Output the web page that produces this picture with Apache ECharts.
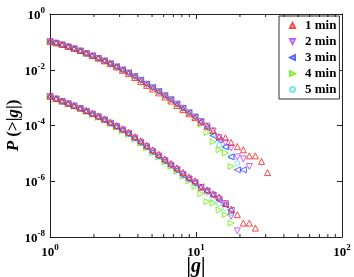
<!DOCTYPE html>
<html><head><meta charset="utf-8">
<script src="https://cdn.jsdelivr.net/npm/echarts@6/dist/echarts.min.js"></script>
<style>html,body{margin:0;padding:0;background:#fff}#c{width:354px;height:277px}</style>
</head><body><div id="c"></div>
<script>
// |g| values (log-spaced bins)
const gValues = [1, 1.1, 1.21, 1.33, 1.46, 1.61, 1.77, 1.95, 2.14, 2.36, 2.59, 2.85, 3.14, 3.45, 3.80, 4.18, 4.59, 5.05, 5.56, 6.12, 6.73, 7.40, 8.14, 8.95, 9.85, 10.8, 11.9, 13.1, 14.4, 15.9, 17.4, 19.2, 21.1, 23.2, 25.5, 28.1, 30.9];
const seriesNames = ['1 min', '2 min', '3 min', '4 min', '5 min'];
// log10 P(>|g|), upper branch
const upper1 = [-0.98, -1.03, -1.09, -1.16, -1.23, -1.31, -1.40, -1.49, -1.58, -1.68, -1.78, -1.90, -2.02, -2.14, -2.28, -2.42, -2.56, -2.69, -2.83, -2.98, -3.12, -3.28, -3.43, -3.58, -3.72, -3.88, -4.02, -4.18, -4.40, -4.44, -4.61, -4.76, -4.87, -5.09, -5.09, -5.29, -5.69];
const upper2 = [-0.99, -1.05, -1.11, -1.18, -1.25, -1.33, -1.42, -1.51, -1.60, -1.69, -1.79, -1.90, -2.01, -2.12, -2.25, -2.39, -2.53, -2.65, -2.79, -2.94, -3.08, -3.24, -3.39, -3.55, -3.70, -3.86, -4.02, -4.20, -4.44, -4.62, -4.80, -5.13, -5.20, -5.47];
const upper3 = [-0.99, -1.05, -1.11, -1.18, -1.25, -1.33, -1.42, -1.50, -1.59, -1.68, -1.78, -1.89, -2.00, -2.11, -2.24, -2.37, -2.51, -2.64, -2.78, -2.93, -3.07, -3.23, -3.38, -3.54, -3.69, -3.87, -4.08, -4.36, -4.52, -4.77, -5.13, -5.59, -5.59];
const upper4 = [-0.99, -1.04, -1.10, -1.17, -1.24, -1.32, -1.41, -1.49, -1.58, -1.67, -1.77, -1.88, -1.99, -2.10, -2.23, -2.36, -2.50, -2.63, -2.77, -2.92, -3.07, -3.23, -3.39, -3.56, -3.72, -3.95, -4.25, -4.58, -4.87, -4.98, -5.47];
const upper5 = [-0.99, -1.05, -1.11, -1.18, -1.25, -1.33, -1.42, -1.50, -1.59, -1.68, -1.78, -1.89, -2.00, -2.09, -2.22, -2.35, -2.49, -2.62, -2.76, -2.90, -3.05, -3.20, -3.35, -3.51, -3.66, -3.85, -4.02, -4.30, -4.70, -4.76, -5.11, -5.35];
// log10 P(>|g|), lower branch
const lower1 = [-2.95, -3.03, -3.12, -3.20, -3.28, -3.37, -3.46, -3.56, -3.66, -3.76, -3.88, -4.00, -4.12, -4.24, -4.40, -4.55, -4.71, -4.87, -5.03, -5.20, -5.36, -5.52, -5.68, -5.85, -5.98, -6.21, -6.31, -6.45, -6.57, -6.80, -7.00, -7.20, -7.50, -7.50, -7.68];
const lower2 = [-2.96, -3.05, -3.14, -3.22, -3.30, -3.39, -3.49, -3.59, -3.69, -3.80, -3.92, -4.04, -4.16, -4.29, -4.45, -4.60, -4.76, -4.93, -5.09, -5.26, -5.42, -5.58, -5.76, -5.92, -6.06, -6.22, -6.36, -6.50, -6.64, -6.80, -7.26, -7.78];
const lower3 = [-2.96, -3.05, -3.14, -3.23, -3.31, -3.40, -3.50, -3.60, -3.70, -3.81, -3.93, -4.05, -4.17, -4.30, -4.46, -4.62, -4.78, -4.95, -5.11, -5.28, -5.44, -5.60, -5.78, -5.92, -6.05, -6.20, -6.35, -6.50, -6.68, -6.85, -7.03];
const lower4 = [-2.96, -3.05, -3.14, -3.23, -3.31, -3.40, -3.50, -3.61, -3.71, -3.82, -3.94, -4.06, -4.19, -4.32, -4.48, -4.64, -4.80, -4.97, -5.13, -5.30, -5.47, -5.64, -5.82, -5.99, -6.19, -6.45, -6.73, -6.79, -7.03, -7.20, -7.50];
const lower5 = [-2.96, -3.05, -3.14, -3.23, -3.31, -3.40, -3.50, -3.60, -3.70, -3.81, -3.93, -4.05, -4.18, -4.31, -4.47, -4.63, -4.79, -4.96, -5.12, -5.29, -5.45, -5.62, -5.80, -5.95, -6.08, -6.25, -6.42, -6.60, -6.80, -6.96, -7.15];
// minor tick positions on the x axis
const xMinorTicks = [2, 3, 4, 5, 6, 7, 8, 9, 20, 30, 40, 50, 60, 70, 80, 90];

const uppers = [upper1, upper2, upper3, upper4, upper5];
const lowers = [lower1, lower2, lower3, lower4, lower5];
const colors = ['#ff1a1a', '#b040ff', '#2a40ff', '#66ee00', '#55e0e0'];
const symbols = ['triangle', 'path://M0,0 L10,0 L5,10 Z', 'path://M10,0 L10,10 L0,5 Z', 'path://M0,0 L0,10 L10,5 Z', 'circle'];
const FONT = 'Liberation Serif';

function toPairs(arr) { return arr.map((v, i) => [gValues[i], Math.pow(10, v)]); }

const scatterSeries = seriesNames.map((name, i) => ({
  name, type: 'scatter', symbol: symbols[i], symbolSize: i === 4 ? 5 : 6,
  itemStyle: { color: 'rgba(255,255,255,0)', borderColor: colors[i], borderWidth: 1 },
  data: toPairs(uppers[i]).concat(toPairs(lowers[i])),
  z: 10 - i
}));

const labelRich = {
  b: { fontFamily: FONT, fontWeight: 'bold', fontSize: 13, color: '#000', verticalAlign: 'bottom', lineHeight: 16 },
  s: { fontFamily: FONT, fontWeight: 'bold', fontSize: 9, color: '#000', verticalAlign: 'top', lineHeight: 16 }
};
function powLabel(v) { return '{b|10}{s|' + Math.round(Math.log10(v)) + '}'; }

const tickSeries = {
  type: 'custom', silent: true, z: 20,
  data: xMinorTicks.map(v => [v, 1e-8]),
  encode: { x: 0, y: 1 },
  renderItem: function (params, api) {
    const v = api.value(0);
    const pb = api.coord([v, 1e-8]);
    const pt = api.coord([v, 1]);
    return { type: 'group', children: [
      { type: 'line', shape: { x1: pb[0], y1: pb[1], x2: pb[0], y2: pb[1] - 3 }, style: { stroke: '#222', lineWidth: 1 } },
      { type: 'line', shape: { x1: pt[0], y1: pt[1], x2: pt[0], y2: pt[1] + 3 }, style: { stroke: '#222', lineWidth: 1 } }
    ] };
  }
};

const axisLine = { show: true, lineStyle: { color: '#222', width: 1 } };
const chart = echarts.init(document.getElementById('c'), null, { renderer: 'canvas' });
chart.setOption({
  animation: false,
  backgroundColor: '#fff',
  grid: { left: 50, right: 12, top: 14, bottom: 40, containLabel: false, outerBoundsMode: 'none' },
  legend: {
    data: seriesNames, orient: 'vertical', left: 279, top: 16,
    padding: [3, 3, 3, 10], itemGap: 3, itemWidth: 5, itemHeight: 5,
    borderColor: '#333', borderWidth: 1, backgroundColor: '#fff',
    textStyle: { fontFamily: FONT, fontWeight: 'bold', fontSize: 13, color: '#000', padding: [0, 0, 0, 5], lineHeight: 13 }
  },
  xAxis: [
    { type: 'log', logBase: 10, min: 1, max: 100, position: 'bottom',
      axisLine, splitLine: { show: false },
      axisTick: { show: true, inside: true, length: 5, lineStyle: { color: '#222' } },
      axisLabel: { formatter: powLabel, rich: labelRich, margin: 6 },
      name: '{n||}{i|g}{n||}', nameLocation: 'middle', nameGap: 20, nameMoveOverlap: false,
      nameTextStyle: { rich: {
        n: { fontFamily: FONT, fontWeight: 'bold', fontSize: 20, color: '#000' },
        i: { fontFamily: FONT, fontWeight: 'bold', fontStyle: 'italic', fontSize: 20, color: '#000' } } } },
    { type: 'log', logBase: 10, min: 1, max: 100, position: 'top',
      axisLine, splitLine: { show: false }, axisLabel: { show: false },
      axisTick: { show: true, inside: true, length: 5, lineStyle: { color: '#222' } } }
  ],
  yAxis: [
    { type: 'log', logBase: 10, min: 1e-8, max: 1, interval: 2, position: 'left',
      axisLine, splitLine: { show: false },
      axisTick: { show: true, inside: true, length: 5, lineStyle: { color: '#222' } },
      axisLabel: { formatter: powLabel, rich: labelRich, margin: 5 },
      name: '{i|P}{n| (>|}{i|g}{n||)}', nameLocation: 'middle', nameGap: 28, nameRotate: 90, nameMoveOverlap: false,
      nameTextStyle: { rich: {
        n: { fontFamily: FONT, fontWeight: 'bold', fontSize: 17, color: '#000' },
        i: { fontFamily: FONT, fontWeight: 'bold', fontStyle: 'italic', fontSize: 17, color: '#000' } } } },
    { type: 'log', logBase: 10, min: 1e-8, max: 1, interval: 2, position: 'right',
      axisLine, splitLine: { show: false }, axisLabel: { show: false },
      axisTick: { show: true, inside: true, length: 5, lineStyle: { color: '#222' } } }
  ],
  series: scatterSeries.concat([tickSeries])
});
</script></body></html>
